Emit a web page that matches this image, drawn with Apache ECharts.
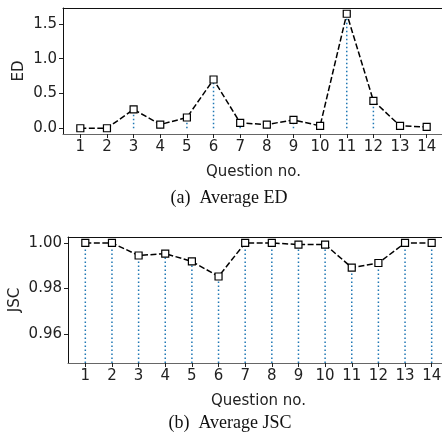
<!DOCTYPE html>
<html lang="en" style="width: 100%;height:100%">
    <head>
        <meta charset="UTF-8">
        <title>Average ED / JSC</title>
        <script src="https://cdn.jsdelivr.net/npm/echarts@6.0.0/dist/echarts.min.js"></script>
    </head>
    <body style="width: 100%;height:100%;margin:0">
        <div id="chart" style="width: 442px;height:438px"></div>
        <script>
            // question numbers 1..14
            var questions = [1, 2, 3, 4, 5, 6, 7, 8, 9, 10, 11, 12, 13, 14];
            var edValues = [0.0, 0.0, 0.27, 0.053, 0.154, 0.70, 0.077, 0.053, 0.12, 0.034, 1.645, 0.394, 0.034, 0.018];
            var jscValues = [1.0, 1.0, 0.9945, 0.9953, 0.9919, 0.9853, 1.0, 1.0, 0.9993, 0.9993, 0.9892, 0.9912, 1.0, 1.0];
            var edTicks = [0, 0.5, 1.0, 1.5];
            var jscTicks = [0.96, 0.98, 1.00];

            var tickFont = {fontFamily: 'DejaVu Sans', fontSize: 15, color: '#222'};

            function pairs(ys) {
                return questions.map(function (q, i) { return [q, ys[i]]; });
            }

            // dotted stem from base up to the point
            function stem(base) {
                return function (params, api) {
                    var p1 = api.coord([api.value(0), base]);
                    var p2 = api.coord([api.value(0), api.value(1)]);
                    return {
                        type: 'line',
                        shape: {x1: p1[0], y1: p1[1], x2: p2[0], y2: p2[1]},
                        style: {stroke: '#1f77b4', lineWidth: 1.5, lineDash: [1.5, 2.5]}
                    };
                };
            }

            function xAxis(idx) {
                return {
                    type: 'value', gridIndex: idx, min: 0.35, max: 14.65,
                    splitLine: {show: false},
                    axisLine: {show: true, onZero: false, lineStyle: {color: '#666', width: 1}},
                    axisTick: {show: true, length: 4, customValues: questions, lineStyle: {color: '#222'}},
                    axisLabel: Object.assign({customValues: questions, margin: 6}, tickFont),
                    name: 'Question no.', nameLocation: 'middle', nameGap: 31,
                    nameTextStyle: tickFont
                };
            }

            // top spine only
            function topLine(idx) {
                return {
                    type: 'value', gridIndex: idx, position: 'top', min: 0.35, max: 14.65,
                    splitLine: {show: false}, axisTick: {show: false}, axisLabel: {show: false},
                    axisLine: {show: true, onZero: false, lineStyle: {color: '#111', width: 1}}
                };
            }

            const myChart = echarts.init(document.getElementById('chart'));

            const option = {
                animation: false,
                backgroundColor: '#fff',
                title: [
                    {text: '(a)  Average ED', left: 224, top: 184, textAlign: 'center',
                     textStyle: {fontFamily: 'Liberation Serif', fontSize: 18, fontWeight: 'normal', color: '#111'}},
                    {text: '(b)  Average JSC', left: 225, top: 409, textAlign: 'center',
                     textStyle: {fontFamily: 'Liberation Serif', fontSize: 18, fontWeight: 'normal', color: '#111'}}
                ],
                grid: [
                    {left: 63, top: 8, width: 381, height: 126, outerBoundsMode: 'none'},
                    {left: 68, top: 237, width: 381, height: 126, outerBoundsMode: 'none'}
                ],
                xAxis: [xAxis(0), xAxis(1), topLine(0), topLine(1)],
                yAxis: [
                    {
                        type: 'value', gridIndex: 0, min: -0.083, max: 1.728,
                        splitLine: {show: false},
                        axisLine: {show: true, lineStyle: {color: '#111', width: 1}},
                        axisTick: {show: true, length: 4, customValues: edTicks, lineStyle: {color: '#222'}},
                        axisLabel: Object.assign({customValues: edTicks, margin: 6,
                            formatter: function (v) { return v.toFixed(1); }}, tickFont),
                        name: 'ED', nameLocation: 'middle', nameGap: 36, nameMoveOverlap: false,
                        nameTextStyle: tickFont
                    },
                    {
                        type: 'value', gridIndex: 1, min: 0.9474, max: 1.0026,
                        splitLine: {show: false},
                        axisLine: {show: true, lineStyle: {color: '#111', width: 1}},
                        axisTick: {show: true, length: 4, customValues: jscTicks, lineStyle: {color: '#222'}},
                        axisLabel: Object.assign({customValues: jscTicks, margin: 6,
                            formatter: function (v) { return v.toFixed(2); }}, tickFont),
                        name: 'JSC', nameLocation: 'middle', nameGap: 45, nameMoveOverlap: false,
                        nameTextStyle: tickFont
                    }
                ],
                series: [
                    {type: 'custom', xAxisIndex: 0, yAxisIndex: 0, data: pairs(edValues),
                     renderItem: stem(0), clip: true, z: 1},
                    {type: 'custom', xAxisIndex: 1, yAxisIndex: 1, data: pairs(jscValues),
                     renderItem: stem(0.9474), clip: true, z: 1},
                    {type: 'line', xAxisIndex: 0, yAxisIndex: 0, data: pairs(edValues),
                     symbol: 'rect', symbolSize: 7, z: 3,
                     lineStyle: {color: '#000', width: 1.5, type: [6, 2.5]},
                     itemStyle: {color: '#fff', borderColor: '#000', borderWidth: 1.2}},
                    {type: 'line', xAxisIndex: 1, yAxisIndex: 1, data: pairs(jscValues),
                     symbol: 'rect', symbolSize: 7, z: 3,
                     lineStyle: {color: '#000', width: 1.5, type: [6, 2.5]},
                     itemStyle: {color: '#fff', borderColor: '#000', borderWidth: 1.2}}
                ]
            };

            myChart.setOption(option);
        </script>
    </body>
</html>
